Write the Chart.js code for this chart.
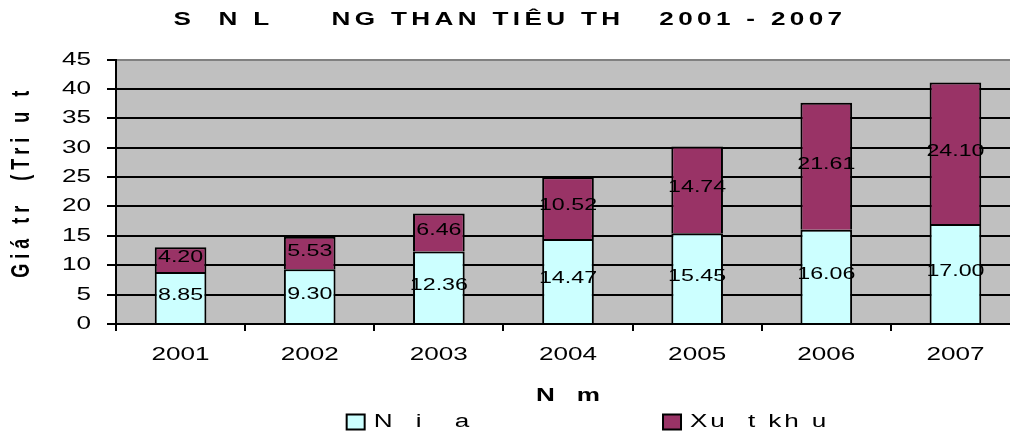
<!DOCTYPE html>
<html>
<head>
<meta charset="utf-8">
<script src="https://cdn.jsdelivr.net/npm/chart.js@4.4.0/dist/chart.umd.min.js"></script>
<style>
  html, body { margin: 0; padding: 0; background: #fff; overflow: hidden; }
  #wrap { width: 1030px; height: 445px; }
</style>
</head>
<body>
<div id="wrap"><canvas id="coalChart"></canvas></div>
<script>
// data
let years = ["2001", "2002", "2003", "2004", "2005", "2006", "2007"];
let noiDia = [8.85, 9.30, 12.36, 14.47, 15.45, 16.06, 17.00];
let xuatKhau = [4.20, 5.53, 6.46, 10.52, 14.74, 21.61, 24.10];
let yTicks = [0, 5, 10, 15, 20, 25, 30, 35, 40, 45];

let titleText = "S  N L     NG THAN TIÊU TH   2001 - 2007";
let yTitle = "  Giá tr  (Tri u t";
let xTitle = "N   m";
let seriesNames = ["N  i   a", "Xu  t kh u"];

const FONT = '"Liberation Sans", Arial, sans-serif';
const STRETCH = 1.45;   // the old picture has wide, stretched letters

let ctx = document.getElementById('coalChart').getContext('2d');

// draw every text a bit wider on screen (around its anchor point)
const fill = ctx.fillText.bind(ctx);
const measure = ctx.measureText.bind(ctx);
ctx.fillText = function(text, x, y, maxWidth) {
    let m = ctx.getTransform();
    let p = m.transformPoint(new DOMPoint(x, y));
    let along = Math.hypot(STRETCH * m.a, m.b) / Math.hypot(m.a, m.b);
    ctx.save();
    ctx.setTransform(new DOMMatrix().translate(p.x, p.y).scale(STRETCH, 1).translate(-p.x, -p.y).multiply(m));
    if (maxWidth === undefined) fill(text, x, y);
    else fill(text, x, y, maxWidth / along);
    ctx.restore();
};
ctx.measureText = function(text) {
    let r = measure(text);
    return {
        width: r.width * STRETCH,
        actualBoundingBoxLeft: r.actualBoundingBoxLeft * STRETCH,
        actualBoundingBoxRight: r.actualBoundingBoxRight * STRETCH,
        actualBoundingBoxAscent: r.actualBoundingBoxAscent,
        actualBoundingBoxDescent: r.actualBoundingBoxDescent
    };
};

// letter spacing, a bit different per part
function spaced(obj, name, px) {
    if (!obj || obj['_sp_' + name]) return;
    let orig = obj[name];
    obj[name] = function(...args) {
        let c = this.ctx;
        let prev = c.letterSpacing;
        c.letterSpacing = px + 'px';
        orig.apply(this, args);
        c.letterSpacing = prev;
    };
    obj['_sp_' + name] = true;
}

const LEGEND_SP = '2px';

const spacing = {
    id: 'spacing',
    beforeUpdate(chart) { chart.ctx.letterSpacing = LEGEND_SP; },
    beforeLayout(chart) { chart.ctx.letterSpacing = LEGEND_SP; },
    afterLayout(chart) {
        spaced(chart.titleBlock, 'draw', 3);
        spaced(chart.scales.x, 'drawLabels', 0);
        spaced(chart.scales.x, 'drawTitle', 0);
        spaced(chart.scales.y, 'drawLabels', 0);
        spaced(chart.scales.y, 'drawTitle', 5);
    },
    beforeDraw(chart) {
        let c = chart.ctx;
        let a = chart.chartArea;
        c.save();
        c.fillStyle = '#fff';
        c.fillRect(0, 0, chart.width, chart.height);
        c.fillStyle = '#C0C0C0';
        c.fillRect(a.left, a.top, a.right - a.left, a.bottom - a.top);
        c.restore();
        c.letterSpacing = LEGEND_SP;
    }
};

// value labels in the middle of each piece
const valueLabels = {
    id: 'valueLabels',
    afterDatasetsDraw(chart) {
        let c = chart.ctx;
        c.save();
        c.letterSpacing = '0px';
        c.font = '16px ' + FONT;
        c.fillStyle = '#000';
        c.textAlign = 'center';
        c.textBaseline = 'middle';
        chart.data.datasets.forEach((ds, i) => {
            chart.getDatasetMeta(i).data.forEach((bar, j) => {
                let p = bar.getProps(['x', 'y', 'base'], true);
                c.fillText(ds.data[j].toFixed(2), p.x, (p.y + p.base) / 2 - 2);
            });
        });
        c.restore();
        c.letterSpacing = LEGEND_SP;
    }
};

new Chart(ctx, {
    type: 'bar',
    data: {
        labels: years,
        datasets: [
            {
                label: seriesNames[0] + ' '.repeat(18),
                data: noiDia,
                backgroundColor: '#CCFFFF',
                borderColor: '#000',
                borderWidth: 2
            },
            {
                label: seriesNames[1] + ' '.repeat(18),
                data: xuatKhau,
                backgroundColor: '#993366',
                borderColor: '#000',
                borderWidth: 2
            }
        ]
    },
    options: {
        responsive: true,
        maintainAspectRatio: false,
        animation: false,
        events: [],
        layout: { padding: { left: 0, right: 10, top: 0, bottom: 4 } },
        datasets: {
            bar: { categoryPercentage: 1, barPercentage: 0.4 }
        },
        scales: {
            x: {
                stacked: true,
                afterFit: s => { s.height = 81; },
                grid: {
                    display: true,
                    offset: true,
                    drawOnChartArea: false,
                    drawTicks: true,
                    tickLength: 7,
                    tickColor: '#000',
                    lineWidth: 2
                },
                border: { display: true, color: '#000', width: 2 },
                ticks: {
                    color: '#000',
                    padding: 13,
                    font: { family: FONT, size: 18 }
                },
                title: {
                    display: true,
                    text: xTitle,
                    color: '#000',
                    padding: { top: 0, bottom: -2 },
                    font: { family: FONT, size: 18, weight: 'bold' }
                }
            },
            y: {
                stacked: true,
                min: 0,
                max: 45,
                afterFit: s => { s.width = 116; },
                afterBuildTicks: s => { s.ticks = yTicks.map(v => ({ value: v })); },
                grid: {
                    color: c => (c.tick && c.tick.value === 45) ? '#808080' : '#000',
                    tickColor: '#000',
                    lineWidth: 2,
                    tickLength: 9
                },
                border: { display: true, color: '#000', width: 2 },
                ticks: {
                    color: '#000',
                    padding: 16,
                    font: { family: FONT, size: 18 }
                },
                title: {
                    display: true,
                    text: yTitle,
                    color: '#000',
                    padding: { top: 11, bottom: 0 },
                    font: { family: FONT, size: 18, weight: 'bold' }
                }
            }
        },
        plugins: {
            title: {
                display: true,
                text: titleText,
                color: '#000',
                padding: { top: 9, bottom: 29 },
                font: { family: FONT, size: 18, weight: 'bold' }
            },
            legend: {
                position: 'bottom',
                align: 'end',
                labels: {
                    color: '#000',
                    boxWidth: 18,
                    boxHeight: 15,
                    padding: 8,
                    font: { family: FONT, size: 18 }
                }
            },
            tooltip: { enabled: false }
        }
    },
    plugins: [spacing, valueLabels]
});
</script>
</body>
</html>
